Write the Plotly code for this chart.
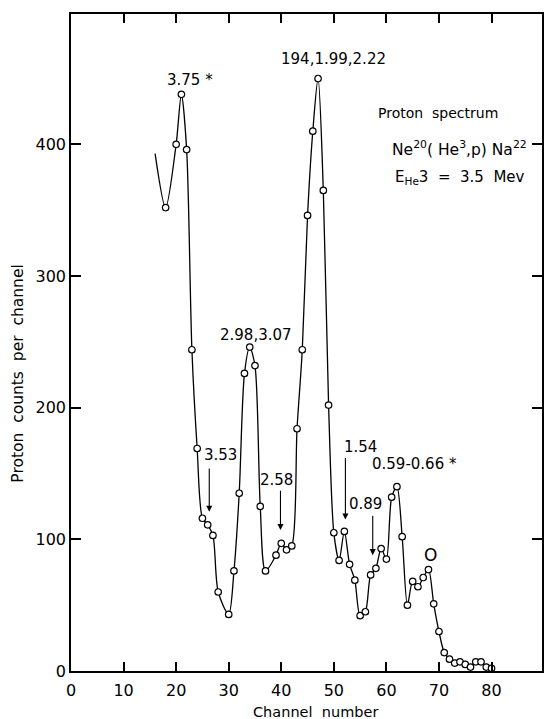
import plotly.graph_objects as go

# ---- data ----
channels = [18, 20, 21, 22, 23, 24, 25, 26, 27, 28, 30, 31, 32, 33, 34, 35, 36, 37,
            39, 40, 41, 42, 43, 44, 45, 46, 47, 48, 49, 50, 51, 52, 53, 54, 55, 56,
            57, 58, 59, 60, 61, 62, 63, 64, 65, 66, 67, 68, 69, 70, 71, 72, 73, 74,
            75, 76, 77, 78, 79, 80]
counts = [352, 400, 438, 396, 244, 169, 116, 111, 103, 60, 43, 76, 135, 226, 246, 232, 125, 76,
          88, 97, 92, 95, 184, 244, 346, 410, 450, 365, 202, 105, 84, 106, 81, 69, 42, 45,
          73, 78, 93, 85, 132, 140, 102, 50, 68, 64, 71, 77, 51, 30, 14, 9, 6, 7,
          5, 3, 7, 7, 3, 2]
# curve begins (without a measured point) at channel 16
curve_start_channel = [16]
curve_start_count = [393]

x_ticks = [0, 10, 20, 30, 40, 50, 60, 70, 80]
y_ticks = [0, 100, 200, 300, 400]

# peak labels: (text, channel, counts)
labels = [
    ("3.75 *", 22.7, 449),
    ("194,1.99,2.22", 49.9, 465),
    ("2.98,3.07", 35.1, 255),
    ("3.53", 28.5, 164),
    ("2.58", 39.1, 145),
    ("1.54", 55.0, 170),
    ("0.89", 56.1, 127),
    ("0.59-0.66 *", 65.4, 157),
]
# arrows: (channel, tail counts, tip counts)
arrows = [
    (26.3, 155, 121),
    (39.85, 138, 107),
    (52.2, 163, 115),
    (57.4, 119, 88),
]

FONT = "DejaVu Sans"
NB = "\u00a0"

fig = go.Figure()
fig.add_trace(go.Scatter(
    x=curve_start_channel + channels, y=curve_start_count + counts,
    mode="lines", line=dict(color="black", width=1.3, shape="spline", smoothing=0.8),
    hoverinfo="skip", showlegend=False))
fig.add_trace(go.Scatter(
    x=channels, y=counts, mode="markers",
    marker=dict(symbol="circle", size=6.5, color="white",
                line=dict(color="black", width=1.2)),
    showlegend=False))

ann = []
for t, cx, cy in labels:
    ann.append(dict(x=cx, y=cy, text=t, showarrow=False, xref="x", yref="y",
                    font=dict(family=FONT, size=15, color="black")))
for cx, tail, tip in arrows:
    ann.append(dict(x=cx, y=tip, ax=cx, ay=tail, axref="x", ayref="y", xref="x", yref="y",
                    text="", showarrow=True, arrowhead=2, arrowsize=1.1, arrowwidth=1.1,
                    arrowcolor="black"))
ann.append(dict(x=68.3, y=88, text="O", showarrow=False,
                font=dict(family=FONT, size=17, color="black")))
ann.append(dict(x=69.8, y=424, text="Proton" + NB * 2 + "spectrum", showarrow=False,
                font=dict(family=FONT, size=14, color="black")))
ann.append(dict(x=73.9, y=397,
                text="Ne<sup>20</sup>(" + NB + "He<sup>3</sup>,p)" + NB + "Na<sup>22</sup>",
                showarrow=False, font=dict(family=FONT, size=15.5, color="black")))
ann.append(dict(x=74.0, y=375,
                text="E<sub>He</sub>3" + NB * 2 + "=" + NB * 2 + "3.5" + NB * 2 + "Mev",
                showarrow=False, font=dict(family=FONT, size=15, color="black")))
# axis titles
ann.append(dict(x=-0.112, xref="paper", xanchor="center", y=226, yref="y", yanchor="middle",
                textangle=-90,
                text="Proton" + NB * 2 + "counts" + NB * 2 + "per" + NB * 2 + "channel",
                showarrow=False, font=dict(family=FONT, size=15.5, color="black")))
ann.append(dict(x=46.5, xref="x", xanchor="center", y=-0.062, yref="paper", yanchor="middle",
                text="Channel" + NB * 2 + "number",
                showarrow=False, font=dict(family=FONT, size=14.5, color="black")))

fig.update_layout(
    width=545, height=719,
    margin=dict(l=71, r=1, t=14, b=48),
    paper_bgcolor="white", plot_bgcolor="white",
    annotations=ann,
    font=dict(family=FONT, color="black"),
    xaxis=dict(range=[0, 89.6], tickvals=x_ticks, ticktext=[str(v) for v in x_ticks],
               ticks="inside", ticklen=9, tickwidth=1.5, tickcolor="black",
               showline=True, linecolor="black", linewidth=1.6, mirror="ticks",
               showgrid=False, zeroline=False, ticklabelstandoff=4,
               tickfont=dict(family=FONT, size=16)),
    yaxis=dict(range=[0, 499], tickvals=y_ticks, ticktext=[str(v) for v in y_ticks],
               ticks="inside", ticklen=10, tickwidth=1.5, tickcolor="black",
               showline=True, linecolor="black", linewidth=1.6, mirror="ticks",
               showgrid=False, zeroline=False,
               tickfont=dict(family=FONT, size=16)),
)

fig.write_html("out.html")
